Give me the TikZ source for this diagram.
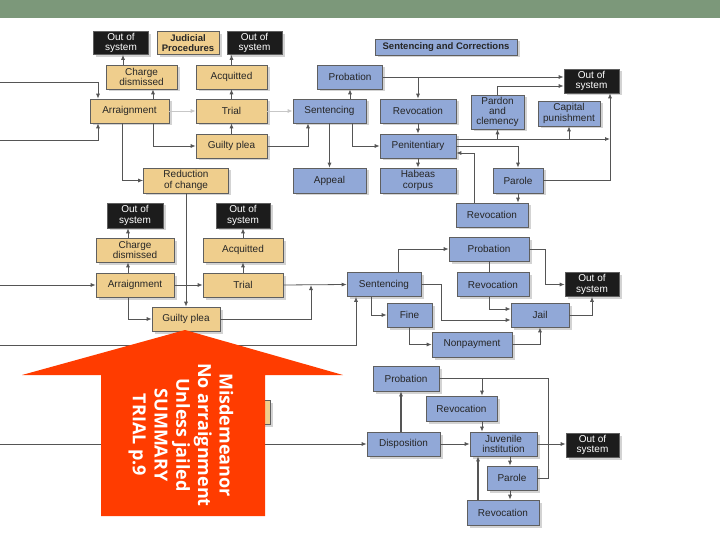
\documentclass[tikz,border=0pt]{standalone}
\usepackage{fontspec}
\setmainfont{Liberation Sans}
\newfontfamily\notefont{Open Sans}
\usetikzlibrary{arrows.meta,shadows}
\definecolor{tanfill}{RGB}{239,206,141}
\definecolor{bluefill}{RGB}{145,168,215}
\definecolor{boxline}{RGB}{95,95,95}
\definecolor{outfill}{RGB}{28,28,28}
\definecolor{band}{RGB}{124,152,122}
\definecolor{linegray}{RGB}{85,85,85}
\definecolor{arrowred}{RGB}{255,60,0}
\begin{document}
\begin{tikzpicture}[x=1pt,y=-1pt,
    >={Latex[length=5pt,width=4pt]},
    color=linegray,line width=0.8pt,
    box/.style={draw=boxline,line width=0.6pt,minimum height=24pt,inner sep=1pt,
      align=center,text=black!85,font=\fontsize{10}{10.4}\selectfont,
      drop shadow={shadow xshift=2.5pt,shadow yshift=-2.5pt,opacity=.35}},
    tanbox/.style={box,fill=tanfill},
    bluebox/.style={box,fill=bluefill},
    outbox/.style={box,fill=outfill,text=white},
    headbox/.style={font=\fontsize{9.5}{10}\selectfont\bfseries},
    faint/.style={draw=black!22}]
  \useasboundingbox (0,0) rectangle (720,540);
  \fill [band] (0,0) rectangle (720,18);

  \node [outbox,minimum width=55pt,minimum height=23pt] (out1a) at (121,43) {Out of\\system};
  \node [tanbox,headbox,minimum width=62pt,minimum height=23pt] (judicial) at (188,43) {Judicial\\Procedures};
  \node [outbox,minimum width=55pt,minimum height=23pt] (out1b) at (254.5,43) {Out of\\system};
  \node [tanbox,minimum width=71pt] (charge1) at (141.5,77) {Charge\\dismissed};
  \node [tanbox,minimum width=71pt] (acq1) at (231.5,77) {Acquitted};
  \node [tanbox,minimum width=79pt] (arraign1) at (129.5,111) {Arraignment};
  \node [tanbox,minimum width=71pt] (trial1) at (231.5,111) {Trial};
  \node [tanbox,minimum width=71pt] (plea1) at (231.5,146) {Guilty plea};
  \node [tanbox,minimum width=85pt,minimum height=25pt] (reduce) at (186,180.5) {Reduction\\of change};

  \node [bluebox,headbox,minimum width=142pt,minimum height=16pt] (sandc) at (446,47) {Sentencing and Corrections};
  \node [bluebox,minimum width=73pt] (sent1) at (329.5,111) {Sentencing};
  \node [bluebox,minimum width=73pt,minimum height=25pt] (appeal) at (329.5,180.5) {Appeal};
  \node [bluebox,minimum width=65pt] (prob1) at (350,77) {Probation};
  \node [bluebox,minimum width=76pt] (revoc1) at (418,111) {Revocation};
  \node [bluebox,minimum width=76pt] (pen) at (418,146) {Penitentiary};
  \node [bluebox,minimum width=76pt,minimum height=25pt] (habeas) at (418,180.5) {Habeas\\corpus};
  \node [bluebox,minimum width=53pt,minimum height=34pt] (pardon) at (497.5,112) {Pardon\\and\\clemency};
  \node [bluebox,minimum width=62pt,minimum height=25pt] (capital) at (569,113.5) {Capital\\punishment};
  \node [outbox,minimum width=55pt] (out1c) at (591.5,81) {Out of\\system};
  \node [bluebox,minimum width=50pt,minimum height=25pt] (parole1) at (518,180.5) {Parole};
  \node [bluebox,minimum width=72pt] (revoc2) at (492,215) {Revocation};

  \node [outbox,minimum width=56pt,minimum height=25pt] (out2a) at (135,215.5) {Out of\\system};
  \node [tanbox,minimum width=78pt] (charge2) at (135,250) {Charge\\dismissed};
  \node [tanbox,minimum width=78pt] (arraign2) at (135,285) {Arraignment};
  \node [outbox,minimum width=54pt,minimum height=25pt] (out2b) at (243,215.5) {Out of\\system};
  \node [tanbox,minimum width=80pt] (acq2) at (243,250) {Acquitted};
  \node [tanbox,minimum width=80pt] (trial2) at (243,285) {Trial};
  \node [tanbox,minimum width=68pt] (plea2) at (186,319) {Guilty plea};
  \node [bluebox,minimum width=74pt] (sent2) at (384,284.5) {Sentencing};
  \node [bluebox,minimum width=80pt] (prob2) at (489,249) {Probation};
  \node [bluebox,minimum width=72pt] (revoc3) at (493,284.5) {Revocation};
  \node [outbox,minimum width=54pt] (out2c) at (592,284.5) {Out of\\system};
  \node [bluebox,minimum width=45pt] (fine) at (409.5,315) {Fine};
  \node [bluebox,minimum width=58pt] (jail) at (540,315) {Jail};
  \node [bluebox,minimum width=80pt,minimum height=25pt] (nonpay) at (472,344.5) {Nonpayment};

  \node [tanbox,minimum width=70pt] (juvtan) at (235,412) {};
  \node [bluebox,minimum width=66pt,minimum height=25pt] (prob3) at (406,378.5) {Probation};
  \node [bluebox,minimum width=71pt,minimum height=25pt] (revoc4) at (461.5,408.5) {Revocation};
  \node [bluebox,minimum width=73pt] (disp) at (403.5,444) {Disposition};
  \node [bluebox,minimum width=67pt] (juv) at (503.5,444) {Juvenile\\institution};
  \node [outbox,minimum width=53pt] (out3) at (592.5,445) {Out of\\system};
  \node [bluebox,minimum width=50pt] (parole2) at (512,478) {Parole};
  \node [bluebox,minimum width=72pt,minimum height=25pt] (revoc5) at (503,512.5) {Revocation};

  \coordinate (feed1) at (0,82);
  \coordinate (feed2) at (0,140);
  \coordinate (feed3) at (0,285);
  \coordinate (feed4) at (0,345);
  \coordinate (feed5) at (0,444);
  \coordinate (junc1) at (610,139);
  \coordinate (junc2) at (311,285);

  \draw [->] (feed1) -| ([xshift=-31.5pt]arraign1.north);
  \draw [->] (feed2) -| ([xshift=-31.5pt]arraign1.south);
  \draw [->] ([xshift=23.5pt]arraign1.north) -- ([xshift=11.5pt]charge1.south);
  \draw [->] ([xshift=-18.5pt]charge1.north) -- ([xshift=2pt]out1a.south);
  \draw [->,faint] (arraign1.east) -- (trial1.west);
  \draw [->] (trial1.north) -- (acq1.south);
  \draw [->] (acq1.north) -- ([xshift=-23pt]out1b.south);
  \draw [->] (plea1.north) -- (trial1.south);
  \draw [->] ([xshift=23.5pt]arraign1.south) |- (plea1.west);
  \draw [->] ([xshift=-7.5pt]arraign1.south) |- (reduce.west);
  \draw [->] (plea1.east) -| ([xshift=-21.5pt]sent1.south);
  \draw [->,faint] (trial1.east) -- (sent1.west);
  \draw [->] (reduce.south) -- (plea2.north);

  \draw [->] ([xshift=20.5pt]sent1.north) -- (prob1.south);
  \draw [->] (sent1.south) -- (appeal.north);
  \draw [->] ([xshift=22.5pt]sent1.south) |- (pen.west);
  \draw [->] (prob1.east) -- ([yshift=4pt]out1c.west);
  \draw [->] (prob1.east) -| (revoc1.north);
  \draw [->] (revoc1.south) -- (pen.north);
  \draw [->] (pen.south) -- (habeas.north);
  \draw [->] (pardon.north) |- ([yshift=-5pt]out1c.west);
  \draw [->] ([yshift=7pt]pen.east) -- (junc1);
  \draw [->] (pardon.south |- junc1) -- (pardon.south);
  \draw [->] (capital.south |- junc1) -- (capital.south);
  \draw [->] (parole1.east) -| ([xshift=18.5pt]out1c.south);
  \draw [->] (pen.east) -| (parole1.north);
  \draw [->] (parole1.south) -- ([xshift=26pt]revoc2.north);
  \draw [->] ([xshift=-18pt]revoc2.north) |- ([yshift=-7pt]pen.east);

  \draw [->] (feed3) -- (arraign2.west);
  \draw [->] ([xshift=-7pt]arraign2.north) -- ([xshift=-7pt]charge2.south);
  \draw [->] ([xshift=-7pt]charge2.north) -- ([xshift=-7pt]out2a.south);
  \draw [->] (arraign2.east) -- (trial2.west);
  \draw [->] (trial2.north) -- (acq2.south);
  \draw [->] (acq2.north) -- (out2b.south);
  \draw [->] ([xshift=-7pt]arraign2.south) |- (plea2.west);
  \draw [->] (trial2.east) -- (sent2.west);
  \draw [->] (plea2.east) -| (junc2);
  \draw [->] (feed4) -| ([xshift=-28pt]sent2.south);
  \draw [->] ([xshift=14pt]sent2.north) |- (prob2.west);
  \draw [->] ([xshift=-13pt]sent2.south) |- (fine.west);
  \draw [->] (sent2.east) -- ++(20pt,0) |- ([yshift=-5pt]jail.west);
  \draw [->] ([xshift=-4pt]revoc3.south) |- ([yshift=6pt]jail.west);
  \draw (prob2.south) -- ([xshift=-4pt]revoc3.north);
  \draw [->] (prob2.east) -- ++(16pt,0) |- (out2c.west);
  \draw [->] (jail.east) -| (out2c.south);
  \draw [->] (fine.south) |- (nonpay.west);
  \draw [->] (nonpay.east) -| (jail.south);

  \draw [->] (feed5) -- (disp.west);
  \draw [->,line width=1.4pt] ([xshift=-2.5pt]disp.north) -- ([xshift=-5pt]prob3.south);
  \draw [->] (disp.east) -- (juv.west);
  \draw [->] (juv.east) -- (juv.east -| out3.west);
  \draw [->] (prob3.east) -| ([xshift=20.5pt]revoc4.north);
  \draw (parole2.east) -- ++(11pt,0) |- (prob3.east);
  \draw [->] ([xshift=20.5pt]revoc4.south) -- ([xshift=-21.5pt]juv.north);
  \draw [->] ([xshift=6.5pt]juv.south) -- ([xshift=-2pt]parole2.north);
  \draw [->] ([xshift=-2pt]parole2.south) -- ([xshift=7pt]revoc5.north);
  \draw [->,line width=1.1pt] ([xshift=-25pt]revoc5.north) -- ([xshift=-25.5pt]juv.south);

  \fill [arrowred]
  (185,330) -- (343,375) -- (265,375) -- (265,516) -- (101,516) -- (101,375) -- (22,375) -- cycle;
  \node [rotate=-90,align=center,text=white,font=\notefont\bfseries\fontsize{18}{21.7}\selectfont] (note) at (181,435)
  {Misdemeanor\\No arraignment\\Unless jailed\\SUMMARY\\TRIAL p.9};
\end{tikzpicture}
\end{document}
